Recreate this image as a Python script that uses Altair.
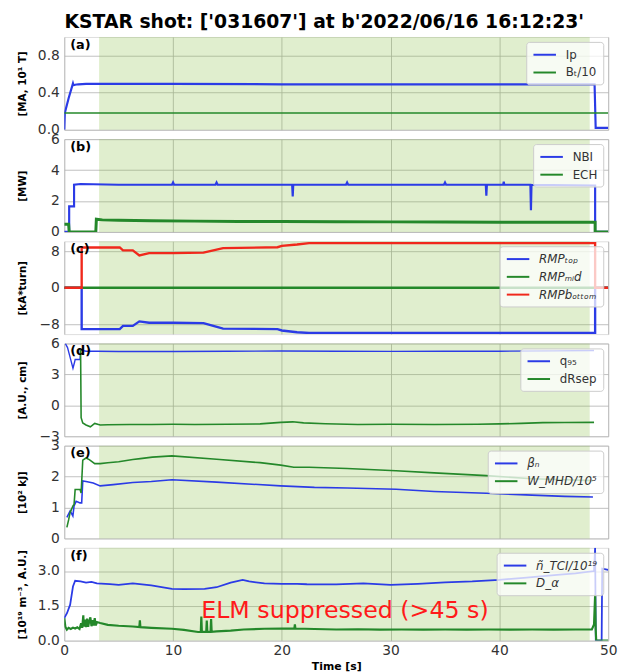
import altair as alt
import pandas as pd

TITLE = "KSTAR shot: ['031607'] at b'2022/06/16 16:12:23'"
X_TITLE = "Time [s]"
X_TICKS = [0, 10, 20, 30, 40, 50]
SHADE_START = [3.2]
SHADE_END = [48.3]
NOTE = ["ELM suppressed (>45 s)"]
NOTE_T = [25.8]
NOTE_V = [1.26]

BLUE = "#2b3be6"
GREEN = "#24882a"
RED = "#f0281c"

# (a) plasma current and toroidal field
IP_T = [0.0, 0.05, 0.4, 0.8, 0.85, 1.0, 1.3, 2.0, 3.0, 10.0, 20.0, 30.0, 40.0, 48.75, 48.85, 50.0]
IP_V = [0.0, 0.18, 0.34, 0.50, 0.48, 0.485, 0.49, 0.495, 0.495, 0.495, 0.49, 0.49, 0.49, 0.49, 0.02, 0.02]
BT_T = [0.0, 50.0]
BT_V = [0.18, 0.18]

# (b) heating
NBI_T = [0.0, 0.45, 0.45, 0.9, 0.9, 1.5, 5.0, 9.9, 10.0, 10.1, 13.9, 14.0, 14.1, 20.95, 21.0, 21.05,
         25.9, 26.0, 26.1, 34.9, 35.0, 35.1, 38.75, 38.8, 38.85, 40.35, 40.4, 40.45, 42.85, 42.9, 42.95,
         48.8, 48.8, 50.0]
NBI_V = [0.0, 0.0, 1.65, 1.65, 3.05, 3.1, 3.05, 3.05, 3.2, 3.05, 3.05, 3.2, 3.05, 3.05, 2.3, 3.05,
         3.05, 3.2, 3.05, 3.05, 3.2, 3.05, 3.05, 2.35, 3.05, 3.05, 3.25, 3.05, 3.05, 1.4, 3.05,
         3.0, 0.0, 0.0]
ECH_T = [0.0, 0.4, 0.45, 2.9, 2.95, 3.5, 5.0, 8.0, 12.0, 16.0, 20.0, 25.0, 30.0, 35.0, 40.0, 45.0, 48.8, 48.8, 50.0]
ECH_V = [0.5, 0.5, 0.0, 0.0, 0.82, 0.78, 0.75, 0.72, 0.7, 0.68, 0.67, 0.66, 0.65, 0.64, 0.63, 0.62, 0.62, 0.0, 0.0]

# (c) RMP coil currents
RMP_T = [0.0, 1.6, 1.6, 5.1, 5.4, 6.3, 6.9, 7.8, 10.0, 12.8, 13.7, 14.6, 19.6, 20.0, 21.4, 22.5, 48.8, 48.8, 50.0]
RMP_TOP = [0.0, 0.0, -9.1, -9.1, -8.4, -8.4, -7.4, -7.7, -7.7, -7.8, -8.4, -9.0, -9.1, -9.4, -9.8, -9.95, -9.95, 0.0, 0.0]
RMP_MID_T = [0.0, 50.0]
RMP_MID = [0.0, 0.0]
RMP_BOT = [0.0, 0.0, 8.85, 8.85, 8.2, 8.2, 7.1, 7.6, 7.6, 7.7, 8.2, 8.7, 8.9, 9.2, 9.5, 9.8, 9.8, 0.0, 0.0]

# (d) q95 and dRsep
Q_T = [0.1, 0.3, 0.55, 0.8, 0.95, 1.0, 1.45, 1.5, 2.0, 3.0, 5.0, 10.0, 15.0, 20.0, 25.0, 30.0, 35.0, 40.0, 45.0, 48.7]
Q_V = [6.0, 5.6, 4.6, 3.6, 4.2, 4.45, 4.45, 5.35, 5.25, 5.25, 5.22, 5.22, 5.25, 5.27, 5.25, 5.23, 5.25, 5.25, 5.28, 5.32]
DR_T = [1.5, 1.55, 1.7, 2.0, 2.4, 2.8, 3.3, 4.0, 6.0, 8.0, 10.0, 12.0, 15.0, 18.0, 19.9, 21.0, 22.0, 24.0,
        27.0, 30.0, 34.0, 38.0, 40.0, 42.0, 44.0, 46.0, 48.7]
DR_V = [5.4, -1.2, -1.7, -1.9, -2.08, -1.75, -1.9, -1.88, -1.85, -1.86, -1.84, -1.85, -1.83, -1.8, -1.65, -1.6,
        -1.7, -1.78, -1.85, -1.84, -1.85, -1.84, -1.8, -1.75, -1.68, -1.66, -1.65]

# (e) beta_n and stored energy
BN_T = [0.24, 0.54, 0.79, 0.9, 1.09, 1.45, 1.6, 1.7, 2.0, 2.66, 3.3, 4.5, 6.3, 8.0, 9.9, 14.0, 19.9, 23.0,
        26.0, 30.5, 34.0, 38.8, 43.0, 46.0, 48.6]
BN_V = [0.68, 0.89, 0.73, 1.05, 1.2, 1.15, 1.15, 1.86, 1.84, 1.79, 1.70, 1.74, 1.81, 1.84, 1.9, 1.82, 1.70, 1.65,
        1.63, 1.59, 1.52, 1.46, 1.40, 1.36, 1.34]
WM_T = [0.24, 0.4, 0.54, 0.8, 0.9, 1.0, 1.2, 1.45, 1.55, 1.7, 2.0, 2.3, 2.8, 3.3, 4.0, 5.0, 6.3, 7.0, 8.1, 9.9,
        14.0, 18.0, 19.9, 21.1, 22.5, 26.0, 30.5, 34.0, 38.8, 43.0, 46.0, 48.6]
WM_V = [0.36, 0.6, 0.84, 1.05, 1.1, 1.58, 1.58, 1.58, 1.47, 2.53, 2.6, 2.55, 2.42, 2.42, 2.45, 2.48, 2.55, 2.58,
        2.63, 2.67, 2.56, 2.45, 2.37, 2.3, 2.3, 2.26, 2.19, 2.12, 2.03, 1.93, 1.9, 1.87]

# (f) line density and D-alpha
NT_T = [0.0, 0.25, 0.54, 0.8, 1.0, 1.5, 2.0, 2.5, 3.0, 4.2, 5.0, 6.3, 8.0, 9.9, 11.0, 12.9, 14.0, 15.3, 16.4, 17.0,
        18.4, 20.0, 21.4, 22.3, 25.0, 27.5, 30.0, 32.5, 35.0, 37.5, 40.0, 42.5, 45.3, 47.0, 48.7, 48.8, 48.86,
        49.4, 49.45, 50.0]
NT_V = [0.97, 1.18, 1.55, 2.33, 2.58, 2.55, 2.5, 2.53, 2.47, 2.43, 2.4, 2.47, 2.38, 2.23, 2.22, 2.23, 2.3, 2.5, 2.62,
        2.55, 2.47, 2.45, 2.45, 2.43, 2.42, 2.47, 2.4, 2.45, 2.51, 2.55, 2.62, 2.72, 2.83, 2.9, 3.0, 4.0, 0.0,
        0.0, 3.1, 3.05]
DA_T = [0.0, 0.1, 0.24, 0.4, 0.6, 0.8, 1.0, 1.2, 1.4, 1.55, 1.65, 1.75, 1.8, 1.9, 2.0, 2.1, 2.2, 2.3, 2.4, 2.5,
        2.6, 2.7, 2.8, 2.9, 3.0, 3.3, 4.0, 5.0, 6.3, 6.9, 6.95, 7.0, 8.0, 9.9, 11.0, 12.3, 12.55, 12.6, 12.65, 13.05,
        13.1, 13.15, 13.45, 13.5, 13.55, 14.0, 15.3, 16.5, 18.4, 20.0, 21.15, 21.2, 21.25, 23.0, 25.0, 27.0, 29.0,
        31.0, 33.0, 35.0, 37.0, 39.0, 41.0, 43.0, 45.0, 47.0, 48.5, 48.7, 48.8, 48.85, 48.9, 50.0]
DA_V = [0.97, 0.6, 0.47, 0.55, 0.5, 0.56, 0.52, 0.57, 0.5, 0.75, 0.55, 1.09, 0.6, 0.9, 0.58, 0.95, 0.6, 0.85, 1.0,
        0.62, 0.88, 0.65, 0.97, 0.66, 0.8, 0.76, 0.68, 0.64, 0.61, 0.58, 0.87, 0.58, 0.55, 0.51, 0.46, 0.37, 0.38,
        1.04, 0.38, 0.38, 0.86, 0.38, 0.38, 0.93, 0.38, 0.4, 0.43, 0.48, 0.51, 0.52, 0.52, 0.7, 0.52, 0.5, 0.48,
        0.49, 0.47, 0.48, 0.47, 0.48, 0.47, 0.48, 0.47, 0.48, 0.47, 0.48, 0.48, 0.7, 1.97, 0.5, 0.0, 0.0]

W, H = 551, 94
FONT = "DejaVu Sans"


def panel(tag, specs, ydom, yticks, yfmt, ytitle, bottom=False, italic=False, note=False):
    rows = []
    for name, ts, vs, col, sw in specs:
        for i, (t, v) in enumerate(zip(ts, vs)):
            rows.append({"s": name, "i": i, "t": t, "v": v})
    df = pd.DataFrame(rows)
    names = [s[0] for s in specs]
    colors = [s[3] for s in specs]

    xscale = alt.Scale(domain=[0, 50], nice=False, zero=False)
    yscale = alt.Scale(domain=ydom, nice=False, zero=False)
    if bottom:
        xaxis = alt.Axis(values=X_TICKS, format="d", title=X_TITLE, titleFontWeight="bold", titleFontSize=11,
                         titleColor="black", labelFontSize=14, labelColor="#333333", ticks=False, labelPadding=3,
                         titlePadding=3, grid=True, domain=False, labelFlush=False,
                         gridColor="#b0b0b0", gridWidth=0.8)
    else:
        xaxis = alt.Axis(values=X_TICKS, labels=False, ticks=False, domain=False, grid=True, title=None,
                         gridColor="#b0b0b0", gridWidth=0.8)
    yaxis = alt.Axis(values=yticks, format=yfmt, title=ytitle, titleX=-42, titleY=H / 2, titleAngle=-90,
                     titleAlign="center", titleBaseline="middle", titleFontWeight="bold", titleFontSize=10.5,
                     titleColor="black", labelFontSize=14, labelColor="#333333", ticks=False, labelPadding=5,
                     grid=True, domain=False, gridColor="#b0b0b0", gridWidth=0.8)

    shade = alt.Chart(pd.DataFrame({"a": SHADE_START, "b": SHADE_END})).mark_rect(
        color="#8cc04a", opacity=0.27
    ).encode(
        x=alt.X("a:Q", scale=xscale, axis=xaxis),
        x2="b:Q",
        y=alt.Y(datum=ydom[0], scale=yscale, axis=yaxis),
        y2=alt.datum(ydom[1]),
    )
    legend = alt.Legend(
        orient="top-right", offset=5, title=None, fillColor="rgba(255,255,255,0.75)", strokeColor="#cccccc",
        cornerRadius=3, padding=6, symbolType="M-1,0L3,0", symbolSize=130, symbolStrokeWidth=2,
        labelFontSize=12, labelColor="#333333", rowPadding=5, labelOffset=20, labelLimit=200,
        labelFont=FONT, labelFontStyle="italic" if italic else "normal",
    )
    color = alt.Color("s:N", scale=alt.Scale(domain=names, range=colors), legend=legend)
    layers = [shade]
    for name, ts, vs, col, sw in specs:
        layers.append(
            alt.Chart(df).transform_filter(alt.datum.s == name).mark_line(strokeWidth=sw, clip=True).encode(
                x=alt.X("t:Q", scale=xscale, axis=xaxis),
                y=alt.Y("v:Q", scale=yscale, axis=yaxis),
                color=color,
                order=alt.Order("i:Q"),
            )
        )
    if note:
        layers.append(
            alt.Chart(pd.DataFrame({"t": NOTE_T, "v": NOTE_V, "txt": NOTE})).mark_text(
                fontSize=24, color="#ff1a1a", align="center", baseline="middle", font=FONT
            ).encode(x=alt.X("t:Q", scale=xscale, axis=xaxis), y=alt.Y("v:Q", scale=yscale, axis=yaxis), text="txt:N")
        )
    layers.append(
        alt.Chart(pd.DataFrame({"tag": [tag]})).mark_text(
            fontSize=13, fontWeight="bold", color="black", align="left", baseline="top", font=FONT
        ).encode(x=alt.value(6), y=alt.value(2), text="tag:N")
    )
    return alt.layer(*layers).properties(width=W, height=H)


pa = panel("(a)", [("Ip", IP_T, IP_V, BLUE, 2.2), ("Bₜ/10", BT_T, BT_V, GREEN, 1.6)],
           [0, 1.0], [0, 0.4, 0.8], ".1f", "[MA, 10¹ T]")
pb = panel("(b)", [("NBI", NBI_T, NBI_V, BLUE, 2.2), ("ECH", ECH_T, ECH_V, GREEN, 3.0)],
           [0, 6], [0, 2, 4, 6], "d", "[MW]")
pc = panel("(c)", [("RMPₜₒₚ", RMP_T, RMP_TOP, BLUE, 2.4), ("RMPₘᵢd", RMP_MID_T, RMP_MID, GREEN, 2.4),
                   ("RMPbₒₜₜₒₘ", RMP_T, RMP_BOT, RED, 2.4)],
           [-10.2, 10.2], [-8, 0, 8], "d", "[kA*turn]", italic=True)
pd_ = panel("(d)", [("q₉₅", Q_T, Q_V, BLUE, 1.4), ("dRsep", DR_T, DR_V, GREEN, 1.6)],
            [-3, 6], [-3, 0, 3, 6], "d", "[A.U., cm]")
pe = panel("(e)", [("βₙ", BN_T, BN_V, BLUE, 1.6), ("W_MHD/10⁵", WM_T, WM_V, GREEN, 1.6)],
           [0, 3], [0, 1, 2, 3], "d", "[10² kJ]", italic=True)
pf = panel("(f)", [("ñ_TCI/10¹⁹", NT_T, NT_V, BLUE, 1.8), ("D_α", DA_T, DA_V, GREEN, 2.2)],
           [0, 4.0], [0, 1.5, 3.0], ".1f", "[10¹⁹ m⁻³, A.U.]", bottom=True, italic=True, note=True)

chart = alt.vconcat(pa, pb, pc, pd_, pe, pf, spacing=9.5, bounds="flush").resolve_scale(color="independent").properties(
    title=alt.TitleParams(TITLE, fontSize=19, fontWeight="bold", font=FONT, color="black", anchor="middle",
                          offset=5, dx=7),
    padding={"left": 9, "top": 0, "right": 4, "bottom": 0},
).configure_view(stroke="#8c8c8c", strokeWidth=1.4).configure(font=FONT)

chart.save("out.html", embed_options={"renderer": "svg", "actions": False})
